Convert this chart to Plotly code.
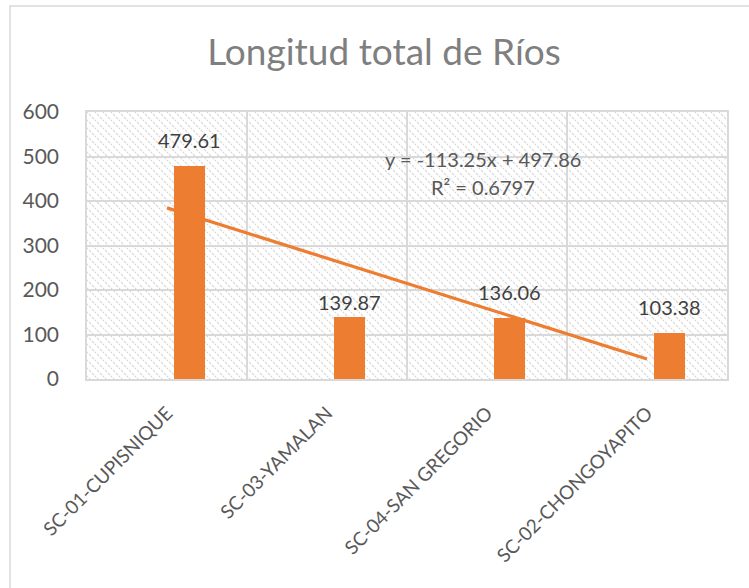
import base64
from decimal import Decimal, ROUND_HALF_UP
import numpy as np
import plotly.graph_objects as go

categories = ["SC-01-CUPISNIQUE", "SC-03-YAMALAN", "SC-04-SAN GREGORIO", "SC-02-CHONGOYAPITO"]
lengths = [479.61, 139.87, 136.06, 103.38]
y_ticks = [0, 100, 200, 300, 400, 500, 600]
title_text = "Longitud total de Ríos"

ORANGE = "#ED7D31"
GRID = "#d9d9d9"
FONT = "Lato, 'Open Sans', sans-serif"

W, H = 749, 588
ML, MR, MT, MB = 87, 22, 112, 209
PW, PH = W - ML - MR, H - MT - MB

# linear trendline (Excel style, x = 1..n)
xs = np.arange(1, len(lengths) + 1)
slope, intercept = np.polyfit(xs, lengths, 1)
fitted = slope * xs + intercept
r2 = 1 - np.sum((np.array(lengths) - fitted) ** 2) / np.sum((np.array(lengths) - np.mean(lengths)) ** 2)


def fmt(v, nd):
    d = Decimal(f"{v:.8f}").quantize(Decimal(1).scaleb(-nd), rounding=ROUND_HALF_UP)
    return str(d)


fig = go.Figure()
fig.add_trace(go.Bar(
    x=categories, y=lengths,
    marker=dict(color=ORANGE, line=dict(width=0)),
    width=0.194, offset=0.044,
    hoverinfo="x+y", showlegend=False,
))
fig.add_trace(go.Scatter(
    x=categories, y=fitted, mode="lines",
    line=dict(color=ORANGE, width=3.2),
    hoverinfo="skip", showlegend=False,
))

# data labels
label_gap = [26, 15, 26, 26]
for c, v, g in zip(categories, lengths, label_gap):
    fig.add_annotation(
        x=c, y=v, text=f"{v:.2f}", showarrow=False,
        xshift=22.5, yshift=g, yanchor="middle",
        font=dict(family=FONT, size=20, color="#404040"),
    )

# trendline equation
eq_font = dict(family=FONT, size=20, color="#595959")
fig.add_annotation(
    xref="paper", yref="paper", x=(483 - ML) / PW, y=(379 - 159) / PH,
    text=f"y = {fmt(slope, 2)}x + {fmt(intercept, 2)}", showarrow=False,
    font=eq_font, yanchor="middle",
)
fig.add_annotation(
    xref="paper", yref="paper", x=(483 - ML) / PW, y=(379 - 187) / PH,
    text=f"R² = {fmt(r2, 4)}", showarrow=False,
    font=eq_font, yanchor="middle",
)

# hatched plot-area background
svg = (
    f"<svg xmlns='http://www.w3.org/2000/svg' width='{PW}' height='{PH}'>"
    "<defs><pattern id='p' width='8' height='8' patternUnits='userSpaceOnUse'>"
    "<path d='M-1,-1 L9,9 M-1,7 L1,9 M7,-1 L9,1' stroke='#d6d6d6' stroke-width='1.1' "
    "stroke-dasharray='3,1.2'/>"
    "</pattern></defs><rect width='100%' height='100%' fill='url(#p)'/></svg>"
)
src = "data:image/svg+xml;base64," + base64.b64encode(svg.encode()).decode()
fig.add_layout_image(
    source=src, xref="paper", yref="paper", x=0, y=1, sizex=1, sizey=1,
    xanchor="left", yanchor="top", sizing="stretch", layer="below",
)

# chart border
fig.add_shape(
    type="rect", xref="paper", yref="paper",
    x0=(10 - ML) / PW, x1=(W + 20 - ML) / PW,
    y0=(379 - (H + 20)) / PH, y1=(379 - 6) / PH,
    line=dict(color=GRID, width=1.5), fillcolor="rgba(0,0,0,0)", layer="below",
)

fig.update_layout(
    width=W, height=H,
    margin=dict(l=ML, r=MR, t=MT, b=MB, pad=0),
    paper_bgcolor="white", plot_bgcolor="rgba(0,0,0,0)",
    title=dict(text=title_text, x=384 / W, xanchor="center", y=1 - 52 / H, yanchor="middle",
               font=dict(family=FONT, size=37, color="#7f7f7f")),
    showlegend=False,
    bargap=0,
)
fig.update_xaxes(
    type="category", tickson="boundaries", showgrid=True, gridcolor=GRID, gridwidth=1.5,
    showline=True, linecolor=GRID, linewidth=1.5, mirror=True, ticks="",
    tickangle=-45, tickfont=dict(family=FONT, size=19, color="#595959"),
    ticklabelstandoff=14, range=[-0.5, len(categories) - 0.5], zeroline=False,
)
fig.update_yaxes(
    range=[0, 600], tickvals=y_ticks, showgrid=True, gridcolor=GRID, gridwidth=1.5,
    showline=True, linecolor=GRID, linewidth=1.5, mirror=True, ticks="",
    tickfont=dict(family=FONT, size=21, color="#595959"), ticklabelstandoff=22,
    zeroline=False,
)

fig.write_html(
    "out.html",
    config={"displayModeBar": False},
    post_script="document.body.style.margin='0';document.body.style.overflow='hidden';",
)
